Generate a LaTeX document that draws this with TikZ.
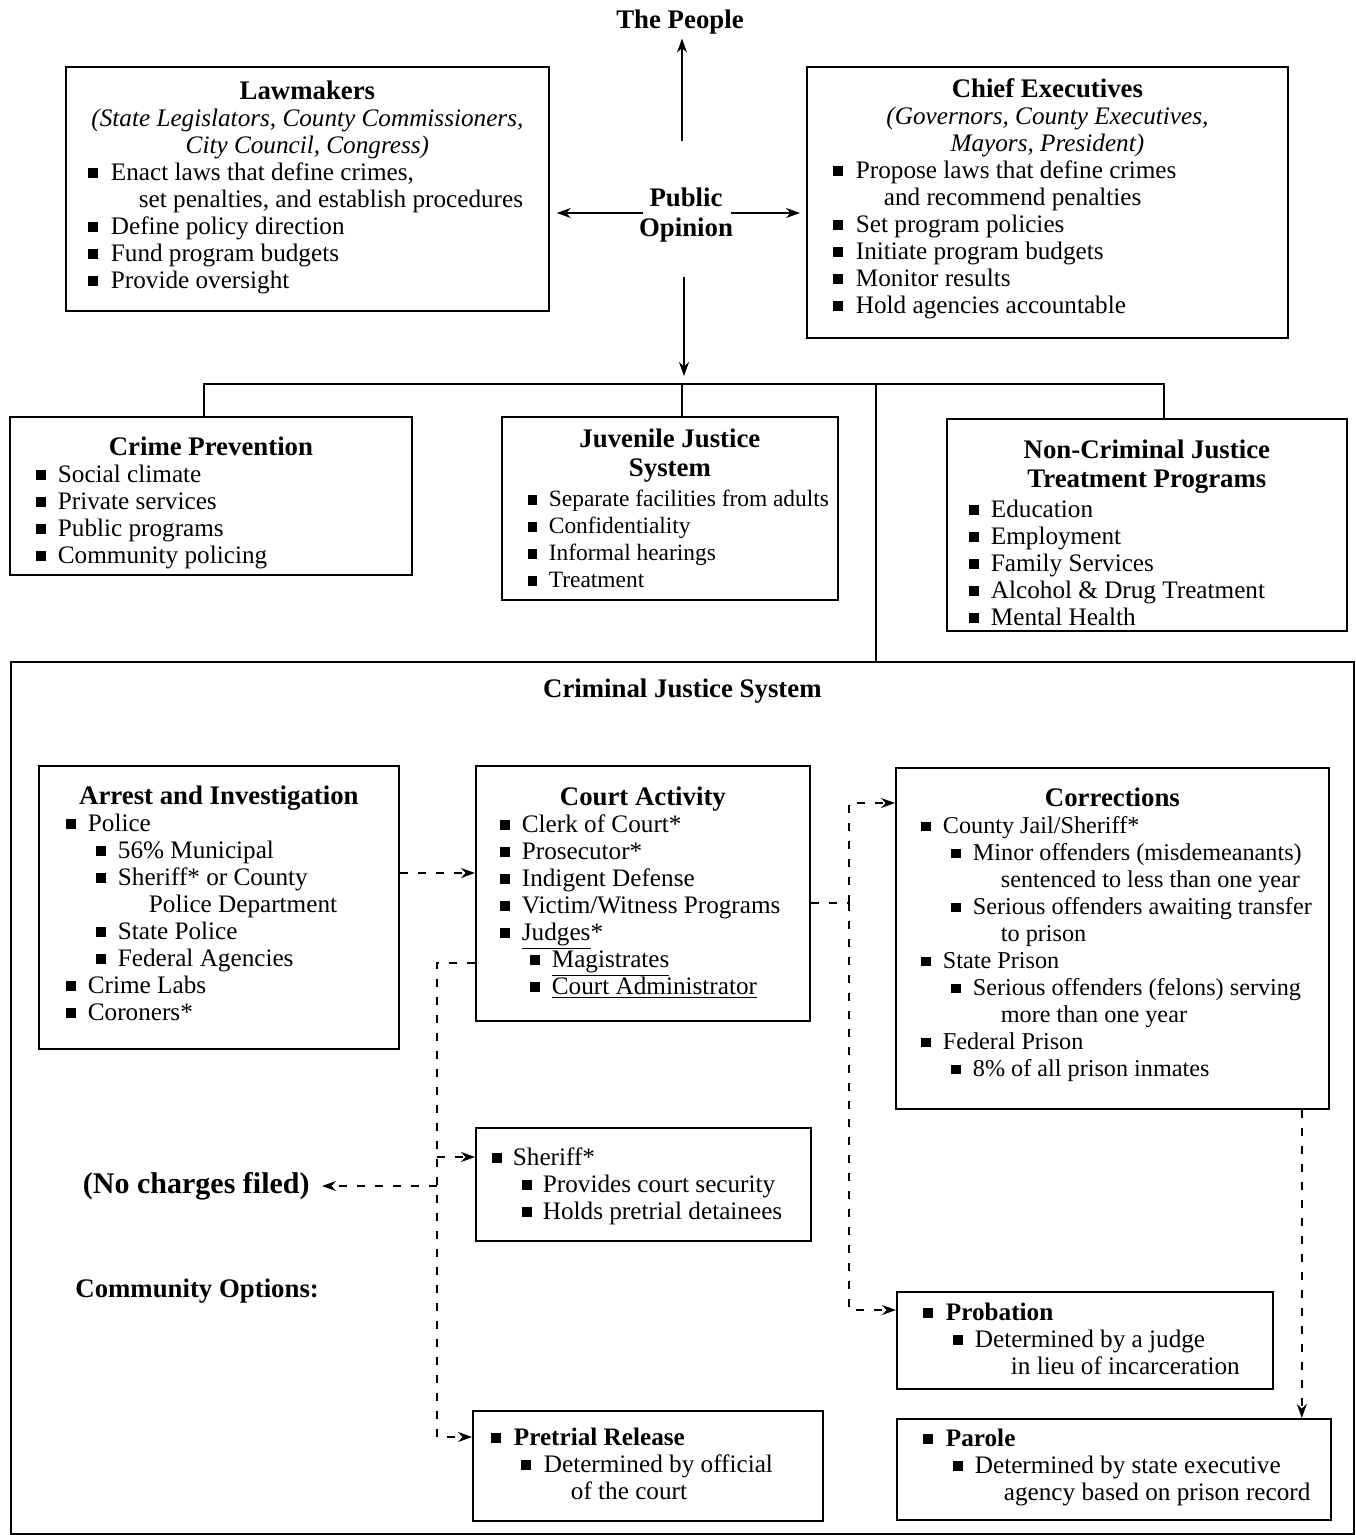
\documentclass[tikz,border=0pt]{standalone}
\usepackage{fontspec}
\setmainfont{Liberation Serif}
\usetikzlibrary{arrows.meta,calc}
\newcommand\bsq{\rule[0.08em]{0.4em}{0.4em}}
\newcommand\ulx[1]{\smash{\underline{#1}}}
\newcommand\bl[3]{\leavevmode\rlap{\hspace*{#1pt}\bsq}\hspace*{#2pt}#3\strut\par}
\newcommand\cl[2]{\leavevmode\hspace*{#1pt}#2\strut\par}
\newcommand\ttl[1]{{\centering\fontsize{13.4}{13.5}\selectfont\bfseries #1\strut\par}}
\newcommand\bx[5]{\begin{minipage}[t][#2pt][t]{#1pt}\fontsize{#3}{13.5}\selectfont\setlength\parindent{0pt}\vspace*{#4pt}#5\end{minipage}}
\tikzset{
  box/.style={draw, line width=0.9pt, inner sep=0pt, anchor=north west},
  lbl/.style={font=\fontsize{13.4}{15}\selectfont\bfseries, align=center, inner sep=2pt},
  arr/.style={-{Stealth[length=7pt,width=5pt]}},
  ln/.style={line width=0.9pt},
  dsh/.style={line width=0.8pt, dash pattern=on 4pt off 5pt}
}
\begin{document}
\begin{tikzpicture}[x=0.5pt,y=-0.5pt]
\useasboundingbox (0,0) rectangle (1355,1535);

% top level
\node[lbl] (people) at (680,22) {The People};
\node[lbl] (po) at (686,215) {Public\\Opinion};

\node[box] (law) at (65,66) {\bx{241.5}{122}{12.6}{6.8}{%
\ttl{Lawmakers}
{\centering\itshape (State Legislators, County Commissioners,\strut\\ City Council, Congress)\strut\par}
\bl{11}{22.5}{Enact laws that define crimes,}
\cl{36.5}{set penalties, and establish procedures}
\bl{11}{22.5}{Define policy direction}
\bl{11}{22.5}{Fund program budgets}
\bl{11}{22.5}{Provide oversight}}};

\node[box] (chief) at (806,66) {\bx{240.5}{135.5}{12.6}{5.8}{%
\ttl{Chief Executives}
{\centering\itshape (Governors, County Executives,\strut\\ Mayors, President)\strut\par}
\bl{13}{24.5}{Propose laws that define crimes}
\cl{38.5}{and recommend penalties}
\bl{13}{24.5}{Set program policies}
\bl{13}{24.5}{Initiate program budgets}
\bl{13}{24.5}{Monitor results}
\bl{13}{24.5}{Hold agencies accountable}}};

% second level
\node[box] (crime) at (9,416) {\bx{201}{79}{12.6}{9.8}{%
\ttl{Crime Prevention}
\bl{13}{24}{Social climate}
\bl{13}{24}{Private services}
\bl{13}{24}{Public programs}
\bl{13}{24}{Community policing}}};

\node[box] (juv) at (501,416) {\bx{168}{91.5}{11.7}{5.3}{%
{\centering\fontsize{13.4}{14.5}\selectfont\bfseries Juvenile Justice\strut\\System\strut\par}
\bl{13}{23.5}{Separate facilities from adults}
\bl{13}{23.5}{Confidentiality}
\bl{13}{23.5}{Informal hearings}
\bl{13}{23.5}{Treatment}}};

\node[box] (noncrim) at (946,418) {\bx{200}{106}{12.6}{9.8}{%
{\centering\fontsize{13.4}{14.5}\selectfont\bfseries Non-Criminal Justice\strut\\Treatment Programs\strut\par}
\bl{11}{22}{Education}
\bl{11}{22}{Employment}
\bl{11}{22}{Family Services}
\bl{11}{22}{Alcohol \& Drug Treatment}
\bl{11}{22}{Mental Health}}};

% criminal justice system
\node[box] (cjs) at (10,661) {\bx{671.5}{436}{12.6}{8.3}{%
\ttl{Criminal Justice System}}};

\node[box] (arrest) at (38,765) {\bx{180}{141.5}{12.6}{9.8}{%
\ttl{Arrest and Investigation}
\bl{13.5}{24.5}{Police}
\bl{28.5}{39.5}{56\% Municipal}
\bl{28.5}{39.5}{Sheriff* or County}
\cl{55}{Police Department}
\bl{28.5}{39.5}{State Police}
\bl{28.5}{39.5}{Federal Agencies}
\bl{13.5}{24.5}{Crime Labs}
\bl{13.5}{24.5}{Coroners*}}};

\node[box] (court) at (475,765) {\bx{167}{127.5}{12.6}{10.3}{%
\ttl{Court Activity}
\bl{12}{23}{Clerk of Court*}
\bl{12}{23}{Prosecutor*}
\bl{12}{23}{Indigent Defense}
\bl{12}{23}{Victim/Witness Programs}
\bl{12}{23}{\ulx{Judges}*}
\bl{27}{38}{\ulx{Magistrates}}
\bl{27}{38}{\ulx{Court Administrator}}}};

\node[box] (corr) at (895,767) {\bx{216.5}{170.5}{12.1}{9.8}{%
\ttl{Corrections}
\bl{12.5}{23.5}{County Jail/Sheriff*}
\bl{27.5}{38.5}{Minor offenders (misdemeanants)}
\cl{52.5}{sentenced to less than one year}
\bl{27.5}{38.5}{Serious offenders awaiting transfer}
\cl{52.5}{to prison}
\bl{12.5}{23.5}{State Prison}
\bl{27.5}{38.5}{Serious offenders (felons) serving}
\cl{52.5}{more than one year}
\bl{12.5}{23.5}{Federal Prison}
\bl{27.5}{38.5}{8\% of all prison inmates}}};

\node[box] (sher) at (475,1127) {\bx{167.5}{56.5}{12.6}{9.3}{%
\bl{8}{18.5}{Sheriff*}
\bl{23}{33.5}{Provides court security}
\bl{23}{33.5}{Holds pretrial detainees}}};

\node[box] (prob) at (896,1291) {\bx{188}{48.5}{12.6}{4.8}{%
\bl{13}{24.5}{\textbf{Probation}}
\bl{28}{39}{Determined by a judge}
\cl{57}{in lieu of incarceration}}};

\node[box] (pre) at (472,1410) {\bx{175}{55}{12.6}{7.8}{%
\bl{9}{20.5}{\textbf{Pretrial Release}}
\bl{24}{35.5}{Determined by official}
\cl{49}{of the court}}};

\node[box] (parole) at (896,1418) {\bx{217}{50.5}{12.6}{4.3}{%
\bl{13}{24.5}{\textbf{Parole}}
\bl{28}{39}{Determined by state executive}
\cl{53.5}{agency based on prison record}}};

\node[font=\fontsize{15}{17}\selectfont\bfseries, inner sep=6pt, anchor=east] (nocharge) at (322,1186) {(No charges filed)};
\node[lbl, anchor=west, inner sep=0pt] (comm) at (75,1291) {Community Options:};

% solid connectors
\coordinate (upstart) at ($(po.north)+(-4,-42)$);
\draw[ln,arr] (upstart) -- (upstart |- people.south);
\draw[ln,arr] ($(po.west)+(8,-2)$) -- ($(po.west -| law.east)+(7,-2)$);
\draw[ln,arr] ($(po.east)+(-6,-2)$) -- ($(po.east -| chief.west)+(-6,-2)$);
\coordinate (hub) at (682,384);
\draw[ln,arr] ($(po.south)+(-2,30)$) -- ($(hub)+(2,-8)$);
\coordinate (crtop) at ($(crime.north)+(-7,0)$);
\coordinate (nctop) at ($(noncrim.north)+(17,0)$);
\draw[ln] (crtop) -- (crtop |- hub) -- (nctop |- hub) -- (nctop);
\draw[ln] (hub) -- (hub |- juv.north);
\coordinate (cjtop) at ($(cjs.north)+(193.5,0)$);
\draw[ln] (cjtop) -- (cjtop |- hub);

% dashed connectors
\coordinate (a1) at ($(arrest.north east)+(0,108)$);
\draw[dsh,arr] (a1) -- (a1 -| court.west);

\coordinate (c1) at ($(court.north west)+(0,198)$);
\coordinate (c2) at ($(c1)+(-38,0)$);
\coordinate (p1) at ($(pre.north west)+(0,27)$);
\coordinate (s1) at ($(sher.north west)+(0,30)$);
\draw[dsh,arr] (c1) -- (c2) |- (p1);
\draw[dsh,arr] (c2 |- s1) -- (s1);
\draw[dsh,arr] (c2 |- nocharge.east) -- (nocharge.east);

\coordinate (k1) at ($(court.north east)+(0,138)$);
\coordinate (k2) at ($(k1)+(38,0)$);
\coordinate (r1) at ($(corr.north west)+(0,36)$);
\coordinate (b1) at ($(prob.north west)+(0,19)$);
\draw[dsh] (k1) -- (k2);
\draw[dsh,arr] (k2) |- (r1);
\draw[dsh,arr] (k2) |- (b1);

\coordinate (d1) at ($(corr.south east)+(-28,0)$);
\draw[dsh,arr] (d1) -- (d1 |- parole.north);
\end{tikzpicture}
\end{document}
